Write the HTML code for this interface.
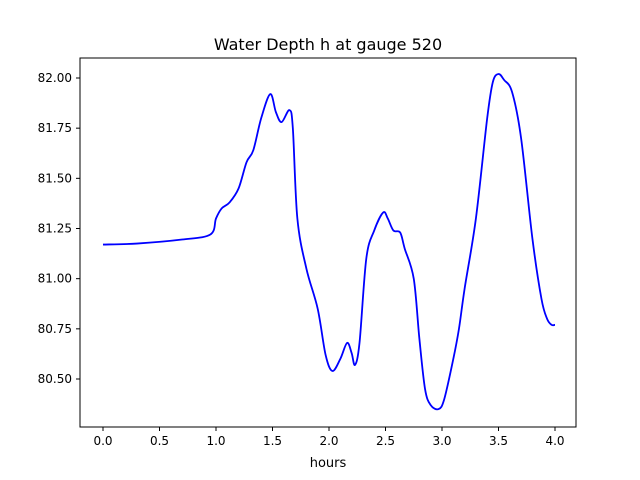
<!DOCTYPE html>
<html><head><meta charset="utf-8"><style>
body{margin:0;background:#fff;}
svg{display:block;font-family:"DejaVu Sans","Liberation Sans",sans-serif;}
</style></head><body>
<svg id="chart" width="640" height="480">
<rect width="640" height="480" fill="#fff"/>
<text x="328" y="50" font-size="16" text-anchor="middle">Water Depth h at gauge 520</text>
<g id="axes"></g>
<rect x="80" y="58" width="496" height="369" fill="none" stroke="#000" stroke-width="1"/>
<text x="328" y="467" font-size="13" text-anchor="middle">hours</text>
</svg>
<script>
const hours=[0,0.3,0.7,0.95,1.0,1.05,1.12,1.2,1.27,1.33,1.4,1.48,1.53,1.58,1.65,1.68,1.72,1.8,1.9,1.97,2.03,2.1,2.16,2.2,2.23,2.27,2.33,2.4,2.48,2.52,2.57,2.63,2.67,2.75,2.8,2.85,2.9,2.97,3.02,3.1,3.15,3.2,3.3,3.4,3.45,3.5,3.55,3.62,3.7,3.8,3.88,3.93,3.97,4.0];
const depth=[81.17,81.175,81.195,81.22,81.3,81.35,81.38,81.45,81.58,81.64,81.8,81.92,81.83,81.78,81.84,81.75,81.3,81.05,80.85,80.62,80.54,80.6,80.68,80.63,80.57,80.68,81.1,81.24,81.33,81.3,81.24,81.23,81.15,81.0,80.7,80.45,80.37,80.35,80.4,80.6,80.75,80.95,81.3,81.8,81.98,82.02,81.99,81.93,81.7,81.2,80.9,80.8,80.77,80.77];
const xTicks=[0,0.5,1,1.5,2,2.5,3,3.5,4];
const xTickLabels=["0.0","0.5","1.0","1.5","2.0","2.5","3.0","3.5","4.0"];
const yTicks=[80.5,80.75,81,81.25,81.5,81.75,82];
const yTickLabels=["80.50","80.75","81.00","81.25","81.50","81.75","82.00"];
const NS="http://www.w3.org/2000/svg";
const xs=v=>103+v*113;
const ys=v=>78+(82-v)*200.67;
const g=document.getElementById('axes');
function mk(t,a){const e=document.createElementNS(NS,t);for(const k in a)e.setAttribute(k,a[k]);return e;}
xTicks.forEach((v,i)=>{
 const l=mk('line',{x1:xs(v),x2:xs(v),y1:427,y2:431,stroke:'#000'});
 
 
 g.appendChild(l);
 const t=mk('text',{x:xs(v),y:445,'font-size':12,'text-anchor':'middle'});
 
 
 t.textContent=xTickLabels[i];g.appendChild(t);
});
yTicks.forEach((v,i)=>{
 const l=mk('line',{x1:76,x2:80,y1:ys(v),y2:ys(v),stroke:'#000'});
 
 
 g.appendChild(l);
 const t=mk('text',{x:72,y:ys(v)+4,'font-size':12,'text-anchor':'end'});
 
 
 t.textContent=yTickLabels[i];g.appendChild(t);
});
const P=hours.map((h,i)=>[xs(h),ys(depth[i])]);
let d='M'+P[0][0]+','+P[0][1];
for(let i=0;i<P.length-1;i++){
 const p0=P[Math.max(0,i-1)],p1=P[i],p2=P[i+1],p3=P[Math.min(P.length-1,i+2)];
 const c1=[p1[0]+(p2[0]-p0[0])/6,p1[1]+(p2[1]-p0[1])/6];
 const c2=[p2[0]-(p3[0]-p1[0])/6,p2[1]-(p3[1]-p1[1])/6];
 d+=`C${c1[0]},${c1[1]} ${c2[0]},${c2[1]} ${p2[0]},${p2[1]}`;
}
const path=mk('path',{d:d,fill:'none',stroke:'#0000ff','stroke-width':1.8});


g.appendChild(path);
</script>
</body></html>
